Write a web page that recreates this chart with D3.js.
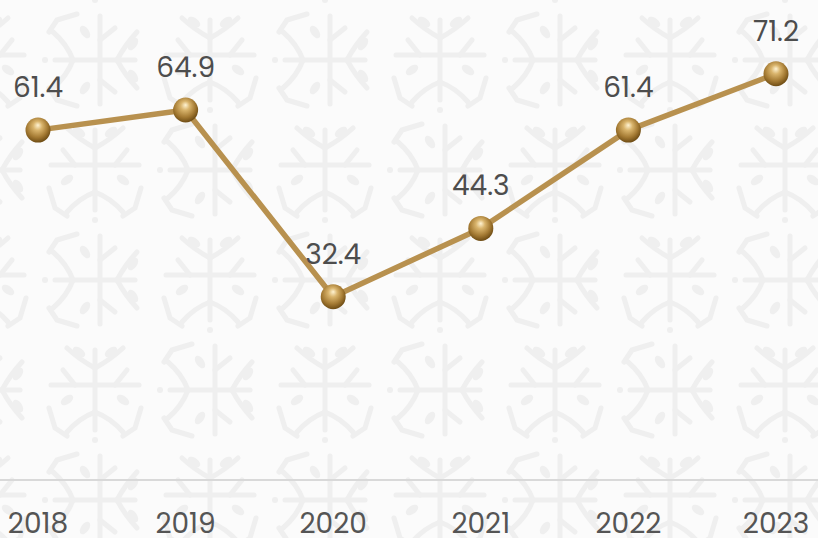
<!DOCTYPE html>
<html>
<head>
<meta charset="utf-8">
<script src="https://cdn.jsdelivr.net/npm/d3@7"></script>
<style>
  html, body { margin: 0; padding: 0; background: #fbfbfb; }
  svg { display: block; }
  text { font-family: "Poppins", "Inter", "Open Sans", sans-serif; }
</style>
</head>
<body>
<svg id="base" width="818" height="538"></svg>
<script>
let years = ["2018", "2019", "2020", "2021", "2022", "2023"]
let values = [61.4, 64.9, 32.4, 44.3, 61.4, 71.2]

const W = 818, H = 538
const svg = d3.select('#base')
const defs = svg.append('defs')

// ornament used for the background pattern (vertical stem version)
function drawMotif(g) {
    let c = "#efefef"
    let line = (x1, y1, x2, y2) => g.append('line')
        .attr('x1', x1).attr('y1', y1).attr('x2', x2).attr('y2', y2)
        .style('stroke', c).style('stroke-width', 5).style('stroke-linecap', 'round')
    let path = d => g.append('path').attr('d', d).style('fill', 'none')
        .style('stroke', c).style('stroke-width', 5).style('stroke-linecap', 'round')
    line(0, -40, 0, 40)
    line(-44, -5, 44, -5)
    path("M0,-22 Q-15,-30 -28,-42")
    path("M0,-22 Q15,-30 28,-42")
    path("M0,22 Q-16,28 -28,42")
    path("M0,22 Q16,28 28,42")
    path("M-20,-5 L-32,-20")
    path("M20,-5 L32,-20")
    path("M-46,18 L-40,38 L-28,46")
    path("M46,18 L40,38 L28,46")
    ;[[-28, 10], [28, 10], [-16, -38], [16, -38]].forEach(p => {
        g.append('ellipse').attr('cx', p[0]).attr('cy', p[1]).attr('rx', 7).attr('ry', 4)
            .attr('transform', `rotate(${p[0] * p[1] > 0 ? 35 : -35},${p[0]},${p[1]})`)
            .style('fill', c)
    })
    g.append('circle').attr('cx', 0).attr('cy', 50).attr('r', 3).style('fill', c)
}

let pat = defs.append('pattern').attr('id', 'bg')
    .attr('patternUnits', 'userSpaceOnUse')
    .attr('width', 230).attr('height', 220)
    .attr('x', 95 - 230).attr('y', 390 - 440)
pat.append('rect').attr('width', 230).attr('height', 220).style('fill', '#fbfbfb')
;[[0, 0, 0], [115, 0, 90], [0, 110, 90], [115, 110, 0], [230, 0, 0], [0, 220, 0], [230, 220, 0], [230, 110, 90], [115, 220, 90]].forEach(m => {
    let g = pat.append('g').attr('transform', `translate(${m[0]},${m[1]}) rotate(${m[2]})`)
    drawMotif(g)
})

svg.append('rect').attr('width', W).attr('height', H).style('fill', 'url(#bg)')

// gold ball gradient
let grad = defs.append('radialGradient').attr('id', 'ball')
    .attr('cx', '45%').attr('cy', '40%').attr('r', '60%')
    .attr('fx', '50%').attr('fy', '30%')
grad.append('stop').attr('offset', '0%').attr('stop-color', '#fff3d2')
grad.append('stop').attr('offset', '30%').attr('stop-color', '#d9b46c')
grad.append('stop').attr('offset', '70%').attr('stop-color', '#a47a33')
grad.append('stop').attr('offset', '100%').attr('stop-color', '#6e4c14')

const x = d3.scalePoint().domain(years).range([38, 776])
const y = d3.scaleLinear().domain([0, 80]).range([483, 23.2])

// baseline
svg.append('line')
    .attr('x1', 0).attr('x2', W)
    .attr('y1', 480).attr('y2', 480)
    .style('stroke', '#d9d9d9').style('stroke-width', 2)

const pts = years.map((yr, i) => [x(yr), y(values[i])])

svg.append('path')
    .attr('d', d3.line()(pts))
    .style('fill', 'none')
    .style('stroke', '#b8914f')
    .style('stroke-width', 5.5)
    .style('stroke-linejoin', 'round')

svg.selectAll('.ball').data(pts).enter().append('circle')
    .attr('class', 'ball')
    .attr('cx', d => d[0]).attr('cy', d => d[1]).attr('r', 12.5)
    .style('fill', 'url(#ball)')

svg.selectAll('.val').data(values).enter().append('text')
    .attr('class', 'val')
    .attr('x', (d, i) => Math.min(x(years[i]), 792))
    .attr('y', (d, i) => y(d) - 33)
    .attr('text-anchor', 'middle')
    .style('font-size', '28px')
    .style('fill', '#4d4d4d')
    .text(d => d.toFixed(1))

svg.selectAll('.yr').data(years).enter().append('text')
    .attr('class', 'yr')
    .attr('x', d => x(d))
    .attr('y', 533)
    .attr('text-anchor', 'middle')
    .style('font-size', '28px')
    .style('fill', '#555')
    .text(d => d)
</script>
</body>
</html>
